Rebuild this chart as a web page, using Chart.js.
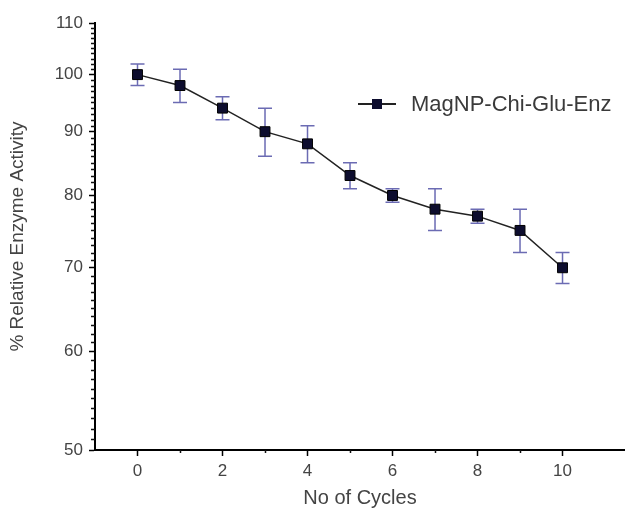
<!DOCTYPE html>
<html>
<head>
<meta charset="utf-8">
<script src="https://cdn.jsdelivr.net/npm/chart.js@4.4.1/dist/chart.umd.min.js"></script>
<style>
  html, body { margin: 0; padding: 0; background: #fff; }
  #wrap { width: 625px; height: 515px; }
</style>
</head>
<body>
<div id="wrap"><canvas id="cycleChart"></canvas></div>
<script>
// Reuse data
const cycles = [0, 1, 2, 3, 4, 5, 6, 7, 8, 9, 10];
const activity = [100, 98, 94, 90, 88, 83, 80, 78, 77, 75, 70];
const activityErr = [2, 3, 2, 4, 3, 2, 1, 3, 1, 3, 2];

// Axis ticks
const yMajorTicks = [50, 60, 70, 80, 90, 100, 110];
const xMajorTicks = [0, 2, 4, 6, 8, 10];
const xMinorTicks = [1, 3, 5, 7, 9];

const seriesLabel = 'MagNP-Chi-Glu-Enz';
const FONT = '"Liberation Sans", Arial, sans-serif';

// Minor tick marks on both axes
const minorTicks = {
  id: 'minorTicks',
  afterDraw(chart) {
    const ctx = chart.ctx;
    const x = chart.scales.x;
    const y = chart.scales.y;
    ctx.save();
    ctx.strokeStyle = '#111';
    ctx.lineWidth = 1.5;
    ctx.beginPath();
    for (let v = 51; v < 110; v++) {
      if (v % 10 === 0) continue;
      const py = Math.round(y.getPixelForValue(v)) + 0.5;
      ctx.moveTo(x.left - 4, py);
      ctx.lineTo(x.left, py);
    }
    xMinorTicks.forEach(v => {
      const px = Math.round(x.getPixelForValue(v)) + 0.5;
      ctx.moveTo(px, y.bottom);
      ctx.lineTo(px, y.bottom + 3);
    });
    ctx.stroke();
    ctx.restore();
  }
};

// Vertical error bars with caps
const errorBars = {
  id: 'errorBars',
  beforeDatasetsDraw(chart) {
    const ctx = chart.ctx;
    const x = chart.scales.x;
    const y = chart.scales.y;
    ctx.save();
    ctx.strokeStyle = '#6b6bb3';
    ctx.lineWidth = 1.5;
    ctx.beginPath();
    cycles.forEach((c, i) => {
      const px = x.getPixelForValue(c);
      const top = y.getPixelForValue(activity[i] + activityErr[i]);
      const bot = y.getPixelForValue(activity[i] - activityErr[i]);
      ctx.moveTo(px, top);
      ctx.lineTo(px, bot);
      ctx.moveTo(px - 7, top);
      ctx.lineTo(px + 7, top);
      ctx.moveTo(px - 7, bot);
      ctx.lineTo(px + 7, bot);
    });
    ctx.stroke();
    ctx.restore();
  }
};

// Legend: line through a square marker, then the label
const lineLegend = {
  id: 'lineLegend',
  afterDraw(chart) {
    const ctx = chart.ctx;
    const ly = 104;
    ctx.save();
    ctx.strokeStyle = '#222';
    ctx.lineWidth = 1.8;
    ctx.beginPath();
    ctx.moveTo(358, ly);
    ctx.lineTo(396, ly);
    ctx.stroke();
    ctx.fillStyle = '#0d0d2e';
    ctx.fillRect(372, ly - 5, 10, 10);
    ctx.fillStyle = '#3a3a3a';
    ctx.font = '22px ' + FONT;
    ctx.textBaseline = 'middle';
    ctx.fillText(seriesLabel, 411, ly + 1);
    ctx.restore();
  }
};

new Chart(document.getElementById('cycleChart'), {
  type: 'line',
  data: {
    datasets: [{
      label: seriesLabel,
      data: cycles.map((c, i) => ({ x: c, y: activity[i] })),
      borderColor: '#222',
      borderWidth: 1.5,
      pointStyle: 'rect',
      pointRadius: 7,
      pointBackgroundColor: '#0d0d2e',
      pointBorderColor: '#000',
      pointBorderWidth: 1,
      tension: 0
    }]
  },
  options: {
    responsive: true,
    maintainAspectRatio: false,
    animation: false,
    layout: { autoPadding: false, padding: { top: 23, right: 0, bottom: 0, left: 0 } },
    plugins: {
      legend: { display: false },
      tooltip: { enabled: false }
    },
    scales: {
      x: {
        type: 'linear',
        min: -1,
        max: 11.47,
        afterBuildTicks: scale => {
          scale.ticks = xMajorTicks.map(v => ({ value: v }));
        },
        afterFit: scale => {
          scale.height = 65;
          scale.paddingLeft = 0;
          scale.paddingRight = 0;
        },
        border: { color: '#000', width: 2 },
        grid: { drawOnChartArea: false, color: '#000', tickLength: 6, tickWidth: 1.5 },
        ticks: {
          color: '#444',
          font: { family: FONT, size: 17 },
          padding: 5,
          maxRotation: 0
        },
        title: {
          display: true,
          text: 'No of Cycles',
          color: '#444',
          font: { family: FONT, size: 20 },
          padding: { top: 2, bottom: 5 }
        }
      },
      y: {
        type: 'logarithmic',
        min: 50,
        max: 110,
        afterBuildTicks: scale => {
          scale.ticks = yMajorTicks.map(v => ({ value: v }));
        },
        afterFit: scale => { scale.width = 95; },
        border: { color: '#000', width: 2 },
        grid: { drawOnChartArea: false, color: '#000', tickLength: 6, tickWidth: 1.5 },
        ticks: {
          color: '#444',
          font: { family: FONT, size: 17 },
          padding: 6,
          callback: v => String(v)
        },
        title: {
          display: true,
          text: '% Relative Enzyme Activity',
          color: '#444',
          font: { family: FONT, size: 19 },
          padding: { top: 6, bottom: 0 }
        }
      }
    }
  },
  plugins: [errorBars, minorTicks, lineLegend]
});
</script>
</body>
</html>
